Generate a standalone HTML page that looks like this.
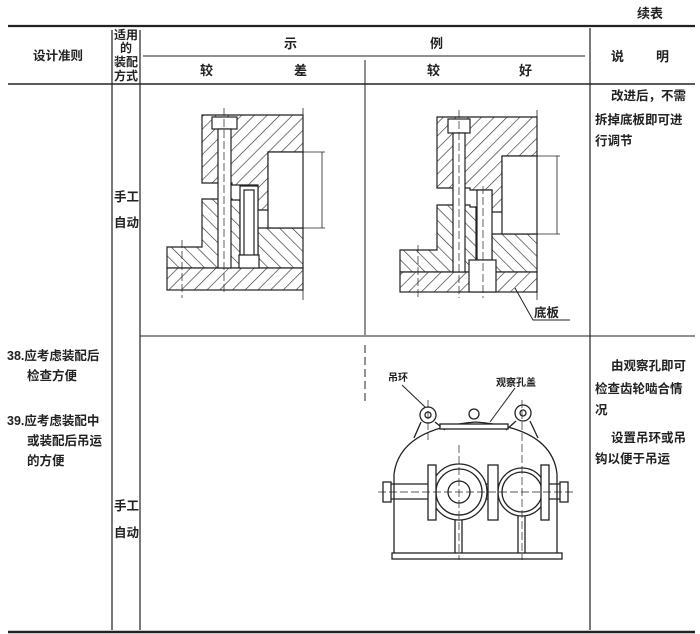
<!DOCTYPE html>
<html><head><meta charset="utf-8">
<style>
html,body{margin:0;padding:0;background:#fff;}
svg{display:block;}
text{font-family:"Liberation Sans","Noto Sans CJK SC",sans-serif;font-weight:bold;fill:#222;}
</style></head>
<body>
<svg width="700" height="634" viewBox="0 0 700 634" xmlns="http://www.w3.org/2000/svg">
<defs>
<pattern id="h" patternUnits="userSpaceOnUse" width="9" height="9" patternTransform="rotate(45)">
<rect width="9" height="9" fill="#fff"/><line x1="0" y1="0" x2="0" y2="9" stroke="#333" stroke-width="1.3"/>
</pattern>
<pattern id="h2" patternUnits="userSpaceOnUse" width="9" height="9" patternTransform="rotate(-45)">
<rect width="9" height="9" fill="#fff"/><line x1="0" y1="0" x2="0" y2="9" stroke="#333" stroke-width="1.3"/>
</pattern>
</defs>

<!-- table lines -->
<g stroke="#222" fill="none">
<line x1="8" y1="26" x2="695" y2="26" stroke-width="2.2"/>
<line x1="143" y1="56" x2="585" y2="56" stroke-width="1"/>
<line x1="8" y1="84" x2="695" y2="84" stroke-width="1.4"/>
<line x1="140" y1="336" x2="695" y2="336" stroke-width="1"/>
<line x1="8" y1="632" x2="695" y2="632" stroke-width="2.5"/>
<line x1="112" y1="30" x2="112" y2="630" stroke-width="1.2"/>
<line x1="140" y1="30" x2="140" y2="630" stroke-width="1.2"/>
<line x1="365" y1="60" x2="365" y2="335" stroke-width="1"/>
<line x1="365" y1="345" x2="365" y2="405" stroke-width="1" stroke-dasharray="8,4"/>
<line x1="590" y1="28" x2="590" y2="630" stroke-width="1.2"/>
</g>

<!-- header text -->
<text x="637" y="18" font-size="13">续表</text>
<text x="33" y="60" font-size="12.5">设计准则</text>
<text x="114" y="39" font-size="12">适用</text>
<text x="120" y="52" font-size="12">的</text>
<text x="114" y="66" font-size="12">装配</text>
<text x="114" y="80" font-size="12">方式</text>
<text x="284" y="48" font-size="13">示</text>
<text x="430" y="48" font-size="13">例</text>
<text x="200" y="75" font-size="13">较</text>
<text x="294" y="75" font-size="13">差</text>
<text x="427" y="75" font-size="13">较</text>
<text x="519" y="75" font-size="13">好</text>
<text x="611" y="61" font-size="13">说</text>
<text x="656" y="61" font-size="13">明</text>

<!-- row 1 text -->
<text x="114" y="201" font-size="12.5">手工</text>
<text x="114" y="227" font-size="12.5">自动</text>
<text x="611" y="100" font-size="12.5">改进后，不需</text>
<text x="595" y="124" font-size="12.5">拆掉底板即可进</text>
<text x="595" y="145" font-size="12.5">行调节</text>

<!-- row 2 text -->
<text x="7" y="360" font-size="12.5">38.应考虑装配后</text>
<text x="27" y="380" font-size="12.5">检查方便</text>
<text x="7" y="425" font-size="12.5">39.应考虑装配中</text>
<text x="27" y="445" font-size="12.5">或装配后吊运</text>
<text x="27" y="465" font-size="12.5">的方便</text>
<text x="114" y="510" font-size="12.5">手工</text>
<text x="114" y="537" font-size="12.5">自动</text>
<text x="611" y="370" font-size="12.5">由观察孔即可</text>
<text x="595" y="393" font-size="12.5">检查齿轮啮合情</text>
<text x="595" y="414" font-size="12.5">况</text>
<text x="611" y="442" font-size="12.5">设置吊环或吊</text>
<text x="595" y="463" font-size="12.5">钩以便于吊运</text>

<!-- left drawing (较差) -->
<g stroke="#222" stroke-width="1.2">
<polygon points="202,115 303,115 303,152 268,152 268,210 258,210 258,185 232,185 232,183 202,183" fill="url(#h)"/>
<polygon points="202,199 232,199 232,200 240,200 240,255 258,255 258,228 268,228 303,228 303,268 167,268 167,247 202,247" fill="url(#h2)"/>
<rect x="167" y="268" width="136" height="22" fill="url(#h)"/>
<rect x="268" y="152" width="35" height="76" fill="#fff"/>
<rect x="212" y="117" width="25" height="12" fill="#fff"/>
<rect x="218" y="129" width="13" height="139" fill="#fff"/>
<rect x="240" y="186" width="18" height="69" fill="#fff"/>
<rect x="244" y="190" width="10" height="66" fill="#fff"/>
<rect x="239" y="255" width="20" height="13" fill="#fff"/>
<line x1="224" y1="108" x2="224" y2="295" stroke-dasharray="8,3" stroke-width="0.7"/>
<line x1="303" y1="108" x2="303" y2="300" stroke-dasharray="10,3" stroke-width="0.8"/>
<line x1="182" y1="240" x2="182" y2="298" stroke-dasharray="8,3" stroke-width="0.7"/>
<line x1="303" y1="152" x2="325" y2="152" stroke-width="0.8"/>
<line x1="303" y1="228" x2="325" y2="228" stroke-width="0.8"/>
<line x1="322" y1="152" x2="322" y2="228" stroke-width="0.8"/>
</g>

<!-- right drawing (较好) -->
<g stroke="#222" stroke-width="1.2">
<polygon points="437,117 537,117 537,156 502,156 502,212 492,212 492,190 470,190 470,188 437,188" fill="url(#h)"/>
<polygon points="437,205 470,205 470,207 476,207 476,260 492,260 492,234 502,234 537,234 537,272 400,272 400,250 437,250" fill="url(#h2)"/>
<rect x="400" y="272" width="137" height="20" fill="url(#h)"/>
<rect x="502" y="156" width="35" height="78" fill="#fff"/>
<rect x="448" y="119" width="22" height="14" fill="#fff"/>
<rect x="453" y="133" width="12" height="139" fill="#fff"/>
<rect x="477" y="190" width="15" height="70" fill="#fff"/>
<rect x="469" y="260" width="27" height="32" fill="#fff"/>
<line x1="459" y1="110" x2="459" y2="298" stroke-dasharray="8,3" stroke-width="0.7"/>
<line x1="483" y1="186" x2="483" y2="298" stroke-dasharray="8,3" stroke-width="0.7"/>
<line x1="537" y1="110" x2="537" y2="300" stroke-dasharray="10,3" stroke-width="0.8"/>
<line x1="418" y1="245" x2="418" y2="298" stroke-dasharray="8,3" stroke-width="0.7"/>
<line x1="537" y1="156" x2="560" y2="156" stroke-width="0.8"/>
<line x1="537" y1="234" x2="560" y2="234" stroke-width="0.8"/>
<line x1="557" y1="156" x2="557" y2="234" stroke-width="0.8"/>
<polyline points="515,288 533,320 570,320" fill="none" stroke-width="1"/>
</g>
<text x="534" y="317" font-size="12.5">底板</text>

<!-- gearbox -->
<g stroke="#222" stroke-width="1.3" fill="none">
<path d="M394,474 Q400,428 476,422 Q552,428 557,474"/>
<line x1="394" y1="474" x2="394" y2="558"/>
<line x1="557" y1="474" x2="557" y2="558"/>
<rect x="392" y="553" width="170" height="6" fill="#fff"/>
<line x1="385" y1="484" x2="567" y2="484"/>
<line x1="385" y1="499" x2="567" y2="499"/>
<rect x="383" y="482" width="8" height="20" fill="#fff"/>
<rect x="560" y="482" width="8" height="20" fill="#fff"/>
<circle cx="459" cy="492" r="28" fill="#fff"/>
<circle cx="459" cy="492" r="23"/>
<circle cx="459" cy="492" r="11"/>
<circle cx="522" cy="492" r="24" fill="#fff"/>
<circle cx="522" cy="492" r="20"/>
<rect x="488" y="465" width="10" height="55" fill="#fff"/>
<rect x="428" y="465" width="8" height="55" fill="#fff"/>
<rect x="541" y="465" width="8" height="55" fill="#fff"/>
<line x1="455" y1="520" x2="455" y2="553"/><line x1="462" y1="520" x2="462" y2="553"/>
<line x1="518" y1="516" x2="518" y2="553"/><line x1="525" y1="516" x2="525" y2="553"/>
<circle cx="428" cy="415" r="8" fill="#fff"/><circle cx="428" cy="415" r="3"/>
<circle cx="523" cy="413" r="8" fill="#fff"/><circle cx="523" cy="413" r="3"/>
<line x1="421" y1="422" x2="414" y2="438"/><line x1="435" y1="422" x2="445" y2="430"/>
<line x1="516" y1="421" x2="506" y2="430"/><line x1="530" y1="421" x2="538" y2="438"/>
<rect x="440" y="424" width="68" height="5" fill="#fff"/>
<circle cx="474" cy="414" r="5" fill="#fff"/>
<line x1="402" y1="385" x2="425" y2="407" stroke-width="1"/>
<line x1="515" y1="388" x2="490" y2="422" stroke-width="1"/>
</g>
<g stroke="#222" stroke-width="0.7" stroke-dasharray="8,3" fill="none">
<line x1="378" y1="492" x2="575" y2="492"/>
<line x1="459" y1="445" x2="459" y2="560"/>
<line x1="522" y1="400" x2="522" y2="560"/>
<line x1="428" y1="400" x2="428" y2="440"/>
</g>
<text x="388" y="381" font-size="10">吊环</text>
<text x="496" y="386" font-size="10">观察孔盖</text>
</svg>
</body></html>
